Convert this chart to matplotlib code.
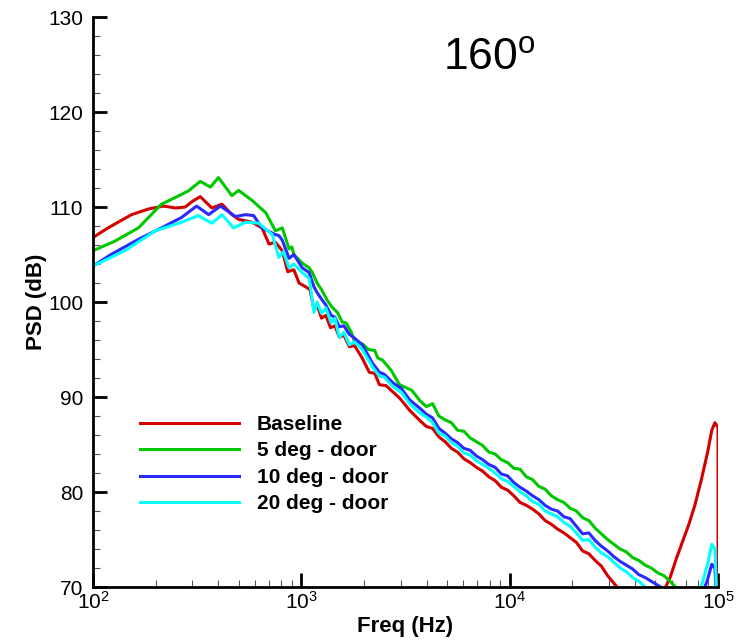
import matplotlib
matplotlib.use("Agg")
import matplotlib.pyplot as plt
from matplotlib.ticker import MultipleLocator, LogLocator, NullFormatter

plt.rcParams['font.family'] = ['Liberation Sans', 'DejaVu Sans']
plt.rcParams['mathtext.default'] = 'regular'

# low / mid frequency part, read per curve (Hz, dB)
base_f_lo = [100, 118, 153, 185, 218, 250, 277, 300, 327, 372, 416, 464, 500, 580, 647, 700,
             750, 810, 860, 920, 975, 1050, 1100, 1150, 1190, 1250, 1310, 1380, 1450, 1520,
             1600, 1700, 1800, 1960, 2120, 2250, 2370, 2550, 2700, 2960, 3310]
base_lo = [106.8, 107.8, 109.2, 109.8, 110.1, 109.9, 110.0, 110.6, 111.1, 109.9, 110.3, 109.2,
           108.7, 108.4, 107.8, 106.1, 106.3, 105.4, 103.2, 103.4, 102.0, 101.6, 101.3, 99.2,
           99.7, 98.3, 98.6, 97.3, 97.5, 96.3, 96.5, 95.3, 95.4, 94.1, 92.6, 92.5, 91.3, 91.2,
           90.7, 89.9, 88.6]

deg5_f_lo = [100, 127, 165, 213, 248, 287, 327, 366, 400, 464, 500, 580, 675, 750, 810, 873,
             900, 920, 1010, 1090, 1130, 1190, 1250, 1330, 1400, 1490, 1570, 1640, 1740, 1800,
             1960, 2100, 2250, 2330, 2450, 2700, 2960, 3390]
deg5_lo = [105.4, 106.4, 107.8, 110.3, 111.0, 111.7, 112.7, 112.1, 113.1, 111.2, 111.75, 110.7,
           109.4, 107.5, 107.8, 105.6, 105.8, 105.0, 104.1, 103.6, 103.1, 102.0, 101.3, 100.2,
           99.5, 98.9, 97.9, 97.8, 96.8, 95.8, 95.6, 95.0, 94.9, 94.1, 93.9, 92.8, 91.3, 90.7]

deg10_f_lo = [100, 122, 165, 213, 266, 314, 359, 409, 483, 540, 590, 647, 750, 780, 810, 873,
              920, 1010, 1090, 1150, 1190, 1250, 1310, 1390, 1450, 1520, 1600, 1700, 1800, 1960,
              2190, 2370, 2500, 2750, 3020, 3310]
deg10_lo = [103.8, 105.0, 106.6, 107.8, 108.9, 110.1, 109.2, 110.1, 109.0, 109.2, 109.1, 107.8,
            107.1, 107.0, 106.5, 104.6, 105.0, 103.6, 103.1, 101.6, 101.0, 100.3, 99.7, 98.6,
            98.4, 97.4, 97.5, 96.6, 96.2, 95.5, 93.6, 92.6, 92.4, 91.5, 90.9, 89.7]

deg20_f_lo = [100, 142, 199, 266, 320, 372, 416, 473, 540, 625, 725, 780, 820, 873, 920, 1010,
              1090, 1150, 1190, 1250, 1310, 1390, 1450, 1520, 1600, 1700, 1800, 1960, 2190, 2370,
              2500, 2750, 3020, 3310]
deg20_lo = [103.8, 105.4, 107.5, 108.4, 109.1, 108.3, 109.2, 107.8, 108.4, 108.3, 107.1, 104.7,
            105.3, 103.6, 104.0, 103.1, 102.5, 98.9, 100.0, 98.8, 99.4, 97.8, 98.3, 96.3, 96.8,
            95.5, 95.8, 95.0, 93.2, 92.2, 92.1, 91.1, 90.5, 89.3]

# high frequency part, shared frequencies (Hz)
freq_hi = [3715, 3981, 4266, 4571, 4898, 5248, 5623, 6026, 6457, 6918, 7413, 7943, 8511, 9120,
           9772, 10470, 11220, 12020, 12880, 13800, 14790, 15850, 16980, 18200, 19500, 20890,
           22390, 23990, 25700, 27540, 29510, 31620, 33880, 36310, 38900, 41690, 44670, 47860,
           51290, 54950, 58880, 63100, 67610, 72440, 77620, 83180, 89130, 93330, 96600, 100000,
           100000]
base_hi = [87.5, 86.9, 86.7, 85.8, 85.3, 84.6, 84.2, 83.5, 83.1, 82.6, 82.2, 81.6, 81.2, 80.5,
           80.2, 79.6, 78.9, 78.6, 78.2, 77.7, 77.0, 76.6, 76.1, 75.7, 75.2, 74.7, 73.8, 73.5,
           72.8, 72.2, 71.2, 70.4, 69.6, 69.0, 68.5, 68.1, 67.8, 67.8, 68.5, 69.6, 71.0, 73.0,
           74.8, 76.6, 78.7, 81.3, 84.2, 86.5, 87.3, 86.8, 60.0]
deg5_hi = [89.6, 89.0, 89.3, 88.0, 87.6, 87.3, 86.5, 86.4, 85.7, 85.3, 84.9, 84.2, 84.0, 83.4,
           83.1, 82.5, 82.4, 81.6, 81.3, 80.6, 80.3, 79.6, 79.2, 78.9, 78.3, 78.0, 77.3, 77.0,
           76.2, 75.6, 75.0, 74.5, 74.0, 73.7, 73.1, 72.8, 72.3, 72.0, 71.5, 71.2, 70.6, 69.9,
           69.3, 68.9, 68.5, 68.3, 68.6, 69.0, 69.3, 68.0, 60.0]
deg10_hi = [88.8, 88.2, 87.8, 86.7, 86.2, 85.6, 85.2, 84.6, 84.4, 83.8, 83.4, 82.9, 82.6, 81.9,
            81.7, 81.0, 80.5, 80.1, 79.6, 79.2, 78.6, 78.2, 78.0, 77.4, 77.2, 76.4, 75.6, 75.7,
            74.9, 74.3, 73.8, 73.2, 72.7, 72.3, 71.9, 71.3, 71.0, 70.6, 70.2, 69.8, 69.3, 68.9,
            68.5, 68.2, 68.3, 69.0, 70.8, 72.4, 72.0, 66.0, 60.0]
deg20_hi = [88.3, 87.9, 87.3, 86.2, 85.9, 85.2, 84.8, 84.1, 83.9, 83.3, 82.9, 82.5, 82.0, 81.4,
            81.1, 80.6, 80.0, 79.6, 79.0, 78.7, 78.0, 77.7, 77.4, 76.8, 76.4, 75.7, 74.9, 75.0,
            74.2, 73.6, 73.2, 72.6, 72.0, 71.6, 71.0, 70.6, 70.0, 69.5, 69.0, 68.6, 68.3, 68.0,
            67.8, 67.9, 68.5, 70.1, 72.4, 74.5, 74.0, 65.0, 60.0]

labels = ['Baseline', '5 deg - door', '10 deg - door', '20 deg - door']
colors = ['#d40000', '#00c800', '#2a2aff', '#00ffff']

fig = plt.figure(figsize=(7.46, 6.41), dpi=100)
ax = fig.add_axes([0.1247, 0.0842, 0.8378, 0.8892])

curves = [(base_f_lo, base_lo, base_hi), (deg5_f_lo, deg5_lo, deg5_hi),
          (deg10_f_lo, deg10_lo, deg10_hi), (deg20_f_lo, deg20_lo, deg20_hi)]
for (f_lo, v_lo, v_hi), lab, c in zip(curves, labels, colors):
    ax.plot(f_lo + freq_hi, v_lo + v_hi, color=c, lw=2.2, label=lab)

ax.set_xscale('log')
ax.set_xlim(100, 100000)
ax.set_ylim(70, 130)
ax.yaxis.set_major_locator(MultipleLocator(10))
ax.yaxis.set_minor_locator(MultipleLocator(2))
ax.xaxis.set_major_locator(LogLocator(base=10))
ax.xaxis.set_minor_locator(LogLocator(base=10, subs=range(2, 10)))
ax.xaxis.set_minor_formatter(NullFormatter())

ax.spines['top'].set_visible(False)
ax.spines['right'].set_visible(False)
ax.spines['left'].set_linewidth(2)
ax.spines['bottom'].set_linewidth(2)
ax.tick_params(which='major', direction='in', length=10, width=2, labelsize=15)
ax.tick_params(which='minor', direction='in', length=5, width=0.8, color='#555555')
ax.tick_params(axis='x', which='major', pad=3)
ax.tick_params(axis='y', which='major', pad=7)

ax.set_xlabel('Freq (Hz)', fontsize=16, fontweight='bold', labelpad=2)
ax.set_ylabel('PSD (dB)', fontsize=16, fontweight='bold', labelpad=1)

ax.text(0.56, 0.928, '160$^{o}$', transform=ax.transAxes, fontsize=32, va='center', ha='left')

leg = ax.legend(loc='upper left', bbox_to_anchor=(0.075, 0.302), frameon=False,
                prop={'weight': 'bold', 'size': 15}, handlelength=4.75, handletextpad=0.87,
                labelspacing=0.36, borderpad=0, borderaxespad=0)

fig.savefig('out.png', dpi=100)
